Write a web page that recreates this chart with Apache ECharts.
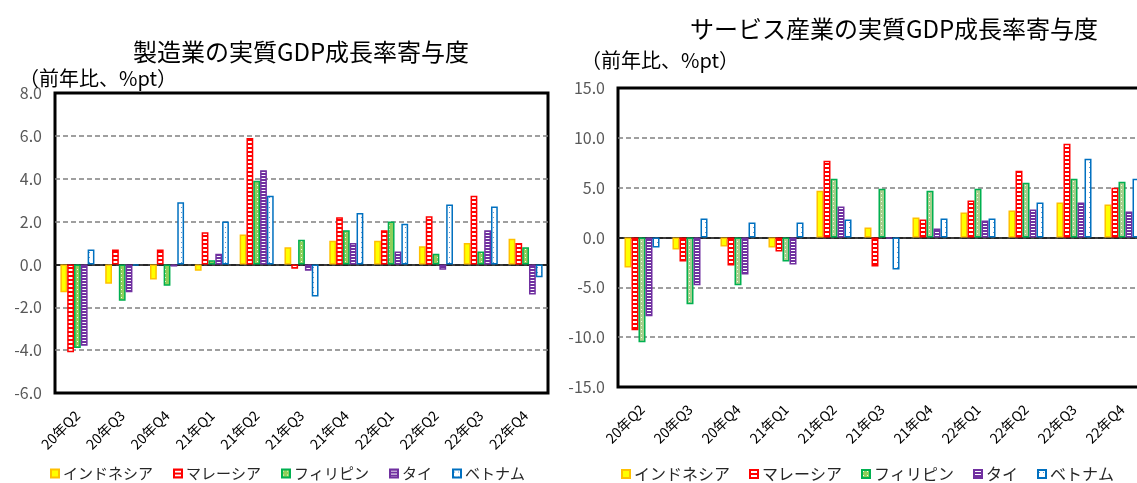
<!DOCTYPE html>
<html>
<head>
<meta charset="utf-8">
<script src="https://cdn.jsdelivr.net/npm/echarts@6/dist/echarts.min.js"></script>
<style>
  html, body { margin: 0; padding: 0; overflow: hidden; background: #fff; }
  #chart { width: 1137px; height: 483px; }
</style>
</head>
<body>
<div id="chart"></div>
<script>
// Quarters shown on both panels
const categories = ['20年Q2', '20年Q3', '20年Q4', '21年Q1', '21年Q2', '21年Q3', '21年Q4', '22年Q1', '22年Q2', '22年Q3', '22年Q4'];
const countries = ['インドネシア', 'マレーシア', 'フィリピン', 'タイ', 'ベトナム'];

// Manufacturing contribution to real GDP growth (y/y, %pt)
const mfgIndonesia = [-1.3, -0.9, -0.7, -0.3, 1.4, 0.8, 1.1, 1.1, 0.85, 1.0, 1.2];
const mfgMalaysia  = [-4.1, 0.7, 0.7, 1.5, 5.9, -0.2, 2.2, 1.6, 2.25, 3.2, 1.0];
const mfgPhilippines = [-3.9, -1.7, -1.0, 0.2, 3.9, 1.15, 1.6, 2.0, 0.5, 0.6, 0.8];
const mfgThailand  = [-3.8, -1.3, -0.1, 0.5, 4.4, -0.3, 1.0, 0.6, -0.25, 1.6, -1.4];
const mfgVietnam   = [0.7, -0.05, 2.9, 2.0, 3.2, -1.5, 2.4, 1.9, 2.8, 2.7, -0.6];

// Services contribution to real GDP growth (y/y, %pt)
const svcIndonesia = [-3.0, -1.2, -0.9, -1.0, 4.7, 1.0, 2.0, 2.5, 2.7, 3.5, 3.3];
const svcMalaysia  = [-9.3, -2.4, -2.8, -1.4, 7.7, -2.9, 1.8, 3.7, 6.7, 9.4, 5.0];
const svcPhilippines = [-10.5, -6.7, -4.8, -2.4, 5.9, 4.9, 4.7, 4.9, 5.5, 5.9, 5.6];
const svcThailand  = [-7.9, -4.8, -3.7, -2.7, 3.1, -0.1, 0.9, 1.7, 2.8, 3.5, 2.6];
const svcVietnam   = [-1.0, 1.9, 1.5, 1.5, 1.8, -3.2, 1.9, 1.9, 3.5, 7.9, 5.9];

// Value-axis ranges
const mfgAxis = { min: -6, max: 8, step: 2 };
const svcAxis = { min: -15, max: 15, step: 5 };

const titleMfg = '製造業の実質GDP成長率寄与度';
const titleSvc = 'サービス産業の実質GDP成長率寄与度';
const unitLabel = '（前年比、%pt）';

const FONT = '"Noto Sans CJK JP", "Noto Sans", sans-serif';

// Small repeating fills for the bar hatching
function pattern(draw, w, h) {
  const c = document.createElement('canvas');
  c.width = w; c.height = h;
  draw(c.getContext('2d'));
  return { image: c, repeat: 'repeat' };
}
const fills = {
  indonesia: '#FFFF00',
  malaysia: pattern(g => {
    g.fillStyle = '#FF0000'; g.fillRect(0, 0, 4, 4);
    g.fillStyle = '#FFFFFF'; g.fillRect(0, 1, 4, 2);
  }, 4, 4),
  philippinesL: pattern(g => {
    g.fillStyle = '#8FCF5A'; g.fillRect(0, 0, 4, 4);
    g.fillStyle = '#F4FFEA'; g.fillRect(1, 1, 1, 1);
  }, 4, 4),
  philippinesR: pattern(g => {
    g.fillStyle = '#A6CF8C'; g.fillRect(0, 0, 4, 4);
    g.fillStyle = '#F4FFEA'; g.fillRect(1, 1, 1, 1);
  }, 4, 4),
  thailand: pattern(g => {
    g.fillStyle = '#7030A0'; g.fillRect(0, 0, 3, 3);
    g.fillStyle = '#FFFFFF'; g.fillRect(0, 1, 3, 1);
  }, 3, 3),
  vietnam: pattern(g => {
    g.fillStyle = '#FFFFFF'; g.fillRect(0, 0, 4, 5);
    g.fillStyle = '#5A9AD6'; g.fillRect(1, 2, 1, 1);
  }, 4, 5)
};
const borders = ['#FFC000', '#FF0000', '#00B050', '#7030A0', '#0070C0'];

function barSeries(name, data, fill, border, axisIdx) {
  return {
    name, type: 'bar', data,
    xAxisIndex: axisIdx, yAxisIndex: axisIdx,
    barGap: '0%',
    barCategoryGap: axisIdx === 0 ? '24%' : '27%',
    itemStyle: { color: fill, borderColor: border, borderWidth: 1.5 },
    emphasis: { disabled: true },
    animation: false
  };
}

function valueAxis(gridIndex, range) {
  return {
    type: 'value', gridIndex,
    min: range.min, max: range.max, interval: range.step,
    axisLine: { show: false }, axisTick: { show: false },
    axisLabel: {
      color: '#595959', fontSize: 16, fontFamily: FONT, margin: 13,
      formatter: v => v.toFixed(1)
    },
    splitLine: {
      showMinLine: false, showMaxLine: false,
      lineStyle: { color: '#808080', type: [5, 3], width: 1.5 }
    }
  };
}
// Category axis carrying the bars; its line marks the zero level
function barAxis(gridIndex) {
  return {
    type: 'category', gridIndex, data: categories,
    axisLine: { onZero: true, lineStyle: { color: '#000', width: 1.5 } },
    axisTick: { show: false }, axisLabel: { show: false },
    splitLine: { show: false }
  };
}
// Same categories along the bottom edge, for the slanted quarter labels
function labelAxis(gridIndex) {
  return {
    type: 'category', gridIndex, data: categories,
    axisLine: { show: false }, axisTick: { show: false },
    axisLabel: {
      interval: 0, rotate: 45, margin: 20,
      color: '#000', fontSize: 14, fontFamily: FONT
    }
  };
}
function legend(left, top, size, gap) {
  return {
    left, top, data: countries, icon: 'rect',
    itemWidth: 8, itemHeight: 8, itemGap: gap,
    selectedMode: false,
    textStyle: { color: '#262626', fontSize: size, fontFamily: FONT, padding: [0, 0, 0, -1] }
  };
}
function grid(left, top, width, height, framed) {
  const g = { left, top, width, height, outerBoundsMode: 'none', containLabel: false };
  if (framed) Object.assign(g, { show: true, borderColor: '#000', borderWidth: 3, backgroundColor: 'transparent' });
  return g;
}
const plotMfg = [55, 93, 493, 300];
const plotSvc = [618, 88, 528, 299];

const option = {
  backgroundColor: '#fff',
  animation: false,
  title: [
    { text: titleMfg, left: 296, top: 35, textAlign: 'center',
      textStyle: { fontSize: 24, fontWeight: 'normal', color: '#000', fontFamily: FONT } },
    { text: unitLabel, left: 14, top: 63,
      textStyle: { fontSize: 20, fontWeight: 'normal', color: '#000', fontFamily: FONT } },
    { text: titleSvc, left: 889, top: 12, textAlign: 'center',
      textStyle: { fontSize: 24, fontWeight: 'normal', color: '#000', fontFamily: FONT } },
    { text: unitLabel, left: 576, top: 45,
      textStyle: { fontSize: 20, fontWeight: 'normal', color: '#000', fontFamily: FONT } }
  ],
  legend: [legend(45, 461, 15, 20), legend(616, 461, 16, 19)],
  grid: [
    grid(...plotMfg, true),
    grid(...plotSvc, true),
    grid(...plotMfg, false),
    grid(...plotSvc, false)
  ],
  xAxis: [barAxis(0), barAxis(1), labelAxis(2), labelAxis(3)],
  yAxis: [
    valueAxis(0, mfgAxis), valueAxis(1, svcAxis),
    { type: 'value', gridIndex: 2, show: false },
    { type: 'value', gridIndex: 3, show: false }
  ],
  series: [
    barSeries(countries[0], mfgIndonesia, fills.indonesia, borders[0], 0),
    barSeries(countries[1], mfgMalaysia, fills.malaysia, borders[1], 0),
    barSeries(countries[2], mfgPhilippines, fills.philippinesL, borders[2], 0),
    barSeries(countries[3], mfgThailand, fills.thailand, borders[3], 0),
    barSeries(countries[4], mfgVietnam, fills.vietnam, borders[4], 0),
    barSeries(countries[0], svcIndonesia, fills.indonesia, borders[0], 1),
    barSeries(countries[1], svcMalaysia, fills.malaysia, borders[1], 1),
    barSeries(countries[2], svcPhilippines, fills.philippinesR, borders[2], 1),
    barSeries(countries[3], svcThailand, fills.thailand, borders[3], 1),
    barSeries(countries[4], svcVietnam, fills.vietnam, borders[4], 1)
  ]
};

const chart = echarts.init(document.getElementById('chart'), null, { renderer: 'canvas' });
chart.setOption(option);
</script>
</body>
</html>
